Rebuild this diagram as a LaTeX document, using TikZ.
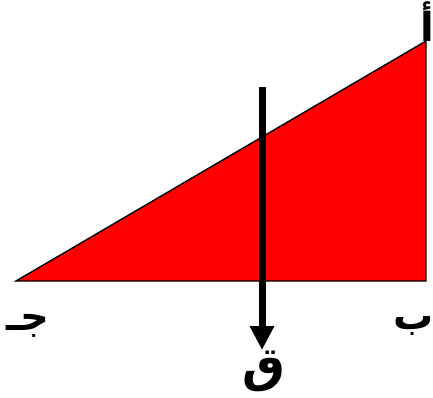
\documentclass[tikz,border=0pt]{standalone}
\usepackage{fontspec}
\usetikzlibrary{arrows.meta}
\TeXXeTstate=1
\newfontfamily\arabicfont[Script=Arabic]{DejaVu Sans}
\definecolor{trired}{RGB}{255,0,0}
\begin{document}
\begin{tikzpicture}[x=1pt,y=-1pt,
  lbl/.style={inner sep=0pt, font=\arabicfont\bfseries\fontsize{40}{40}\selectfont},
  biglbl/.style={inner sep=0pt, font=\arabicfont\bfseries\fontsize{48}{48}\selectfont},
  tri/.style={fill=trired, draw=black, line width=1.4pt, line join=miter},
  force/.style={line width=7pt, -{Triangle[width=23pt,length=24pt]}}]
\useasboundingbox (0,0) rectangle (433,397);
\fill[white] (0,0) rectangle (433,397);
\coordinate (A) at (426,41);
\coordinate (B) at (426,281);
\coordinate (C) at (16,281);
\coordinate (qtop) at (262,87);
\coordinate (qtip) at (262,350);
\draw[tri] (C) -- (A) -- (B) -- cycle;
\draw[force] (qtop) -- (qtip);
\node[lbl, anchor=east] (la) at (434,22) {\beginR أ\endR};
\node[lbl, anchor=east] (lb) at (434,326) {\beginR ب\endR};
\node[lbl] (lc) at (28,326) {\beginR جـ\endR};
\node[biglbl] (lq) at (264,371) {\beginR ق\endR};
\end{tikzpicture}
\end{document}
